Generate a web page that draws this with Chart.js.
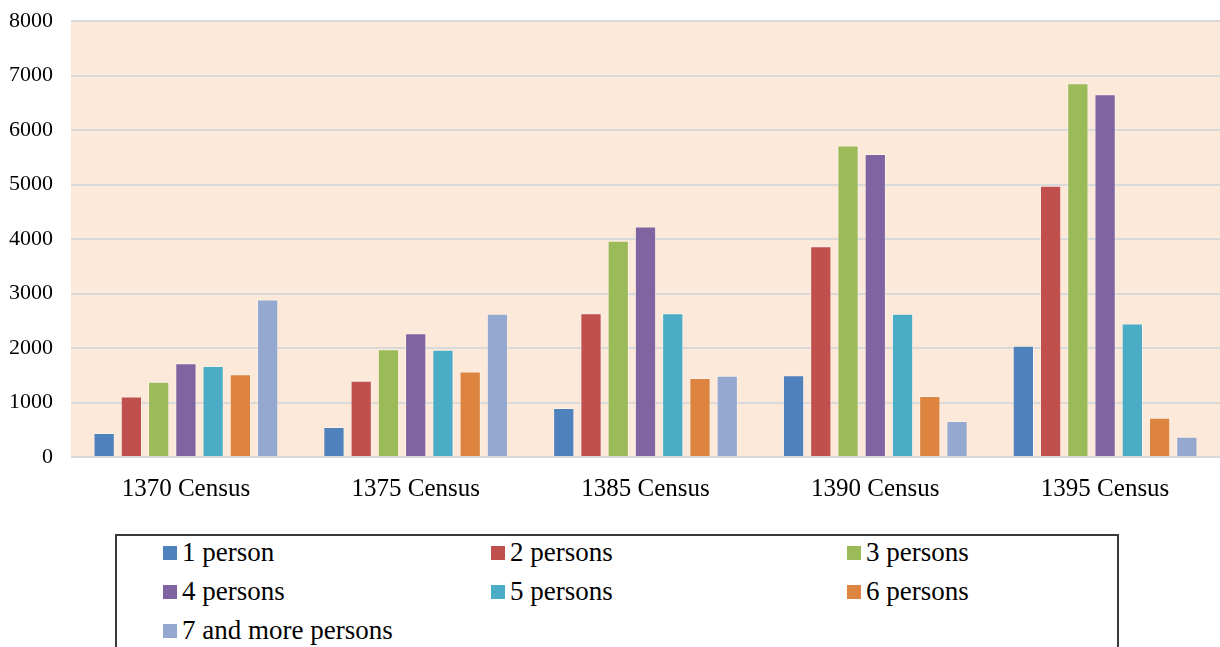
<!DOCTYPE html>
<html>
<head>
<meta charset="utf-8">
<script src="https://cdn.jsdelivr.net/npm/chart.js@4"></script>
<style>
  body { margin: 0; background: #fff; }
  #wrap { position: relative; width: 1220px; height: 647px; overflow: hidden; }
  #chart { position: absolute; left: 0; top: -10px; }
  #legend {
    position: absolute; left: 115px; top: 534px; width: 1000px; height: 140px;
    border: 2px solid #3a3a3a;
    font-family: "Liberation Serif", "Times New Roman", serif; font-size: 27px; color: #000;
  }
  #legend .grid {
    position: absolute; left: 46px; top: -3px;
    display: grid; grid-template-columns: 328px 356px auto; grid-auto-rows: 39px;
  }
  #legend .item { display: flex; align-items: center; white-space: nowrap; }
  #legend .box { width: 14px; height: 14px; margin-right: 5px; }
</style>
</head>
<body>
<div id="wrap">
  <canvas id="chart" width="1220" height="520"></canvas>
  <div id="legend"><div class="grid"></div></div>
</div>
<script>
const censuses = ['1370 Census', '1375 Census', '1385 Census', '1390 Census', '1395 Census'];
const seriesNames = ['1 person', '2 persons', '3 persons', '4 persons', '5 persons', '6 persons', '7 and more persons'];
const seriesColors = ['#4F81BD', '#C0504D', '#9BBB59', '#8064A2', '#4BACC6', '#DD8540', '#95A9D0'];

const onePerson    = [440, 550, 900, 1500, 2040];
const twoPersons   = [1110, 1400, 2640, 3870, 4980];
const threePersons = [1380, 1980, 3970, 5720, 6860];
const fourPersons  = [1720, 2270, 4230, 5560, 6660];
const fivePersons  = [1670, 1970, 2640, 2630, 2450];
const sixPersons   = [1520, 1570, 1450, 1120, 720];
const sevenPlus    = [2890, 2630, 1490, 660, 370];

const allSeries = [onePerson, twoPersons, threePersons, fourPersons, fivePersons, sixPersons, sevenPlus];

const plotBg = {
    id: 'plotBg',
    beforeDraw(chart) {
        const a = chart.chartArea;
        chart.ctx.save();
        chart.ctx.fillStyle = '#FCE9DA';
        chart.ctx.fillRect(a.left, a.top, a.right - a.left, a.bottom - a.top);
        chart.ctx.restore();
    }
};

const ctx = document.getElementById('chart');
const chart = new Chart(ctx, {
    type: 'bar',
    data: {
        labels: censuses,
        datasets: allSeries.map((vals, i) => ({
            label: seriesNames[i],
            data: vals,
            backgroundColor: seriesColors[i],
            borderColor: 'rgba(255,255,255,0.35)',
            borderWidth: 1,
            categoryPercentage: 0.83,
            barPercentage: 0.78
        }))
    },
    options: {
        responsive: false,
        animation: false,
        layout: { padding: { top: 10, right: 0, bottom: 0, left: 0 } },
        plugins: {
            legend: { display: false },
            tooltip: { enabled: false }
        },
        scales: {
            x: {
                grid: { display: false },
                border: { display: false },
                ticks: {
                    color: '#000',
                    padding: 9,
                    font: { family: 'Liberation Serif', size: 25 }
                },
                afterFit(scale) { scale.height = 53; }
            },
            y: {
                min: 0,
                max: 8000,
                grid: { color: '#D9D9D9', lineWidth: 2, drawTicks: false },
                border: { display: false },
                ticks: {
                    stepSize: 1000,
                    color: '#000',
                    padding: 18,
                    font: { family: 'Liberation Serif', size: 22 },
                    callback: v => String(v)
                },
                afterFit(scale) { scale.width = 71; }
            }
        }
    },
    plugins: [plotBg]
});

// legend built from the chart's datasets
const grid = document.querySelector('#legend .grid');
chart.data.datasets.forEach(ds => {
    const item = document.createElement('div');
    item.className = 'item';
    const box = document.createElement('span');
    box.className = 'box';
    box.style.background = ds.backgroundColor;
    item.appendChild(box);
    item.appendChild(document.createTextNode(ds.label));
    grid.appendChild(item);
});
</script>
</body>
</html>
